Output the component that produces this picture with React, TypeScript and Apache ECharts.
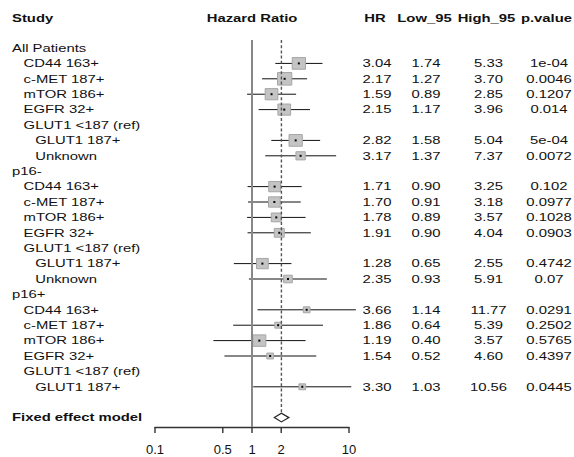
import React, { useEffect, useRef } from "react";
import * as echarts from "echarts";

// ---------- data ----------
const studyLabels = [
  "All Patients", "CD44 163+", "c-MET 187+", "mTOR 186+", "EGFR 32+", "GLUT1 <187 (ref)", "GLUT1 187+", "Unknown",
  "p16-", "CD44 163+", "c-MET 187+", "mTOR 186+", "EGFR 32+", "GLUT1 <187 (ref)", "GLUT1 187+", "Unknown",
  "p16+", "CD44 163+", "c-MET 187+", "mTOR 186+", "EGFR 32+", "GLUT1 <187 (ref)", "GLUT1 187+",
  "", "Fixed effect model",
];
const labelIndent = [0, 1, 1, 1, 1, 1, 2, 2, 0, 1, 1, 1, 1, 1, 2, 2, 0, 1, 1, 1, 1, 1, 2, 0, 0];
const hrValues: (number | null)[] = [
  null, 3.04, 2.17, 1.59, 2.15, null, 2.82, 3.17,
  null, 1.71, 1.70, 1.78, 1.91, null, 1.28, 2.35,
  null, 3.66, 1.86, 1.19, 1.54, null, 3.30, null, null,
];
const low95: (number | null)[] = [
  null, 1.74, 1.27, 0.89, 1.17, null, 1.58, 1.37,
  null, 0.90, 0.91, 0.89, 0.90, null, 0.65, 0.93,
  null, 1.14, 0.64, 0.40, 0.52, null, 1.03, null, null,
];
const high95: (number | null)[] = [
  null, 5.33, 3.70, 2.85, 3.96, null, 5.04, 7.37,
  null, 3.25, 3.18, 3.57, 4.04, null, 2.55, 5.91,
  null, 11.77, 5.39, 3.57, 4.60, null, 10.56, null, null,
];
const pValues = [
  "", "1e-04", "0.0046", "0.1207", "0.014", "", "5e-04", "0.0072",
  "", "0.102", "0.0977", "0.1028", "0.0903", "", "0.4742", "0.07",
  "", "0.0291", "0.2502", "0.5765", "0.4397", "", "0.0445", "", "",
];
const boxWeight: (number | null)[] = [
  null, 13.3, 14.3, 12.7, 12.7, null, 13.3, 9.3,
  null, 11.7, 11.7, 10, 10, null, 11.7, 8.7,
  null, 6.7, 6.7, 13, 6.7, null, 6.7, null, null,
];
const pooledRow = 24;
const pooledHR = 2.01;
const pooledLow = 1.70;
const pooledHigh = 2.40;
const tickValues = [0.1, 0.5, 1, 2, 10];
const tickLabels = ["0.1", "0.5", "1", "2", "10"];
const columnHeaders = ["HR", "Low_95", "High_95", "p.value"];

// ---------- layout ----------
const FONT = "'Liberation Sans', Arial, Helvetica, sans-serif";
const SX = 1.35;
const FS = 11;
const Y_MIN = -0.52;
const Y_MAX = 24.61;
const COL_X = [377, 426, 488.5, 549];
const HEADER_Y = 18;
const TEXT_COLOR = "#111";
const AXIS_COLOR = "#333";
const TICK_LEN = 6;

export default function App() {
  const ref = useRef<HTMLDivElement>(null);
  useEffect(() => {
    if (!ref.current) return;
    const chart = echarts.init(ref.current, undefined, { renderer: "svg" });

    const forestData: number[][] = [];
    hrValues.forEach((h, i) => {
      if (h != null) forestData.push([h, i, low95[i] as number, high95[i] as number, boxWeight[i] as number]);
    });
    const textData = studyLabels.map((_, i) => [1, i]);

    const txt = (x: number, y: number, text: string, align: string, bold = false) => ({
      type: "text",
      x,
      y,
      scaleX: SX,
      silent: true,
      style: {
        text,
        fontSize: FS,
        fontFamily: FONT,
        fontWeight: bold ? "bold" : "normal",
        fill: TEXT_COLOR,
        align,
        verticalAlign: "middle",
      },
    });

    const headerGraphics = [
      txt(12, HEADER_Y, "Study", "left", true),
      txt(252, HEADER_Y, "Hazard Ratio", "center", true),
      ...columnHeaders.map((h, k) => txt([375, 424.5, 486.5, 546.5][k], HEADER_Y, h, "center", true)),
    ];

    const fmt = (v: number | null) => (v == null ? "" : v.toFixed(2));

    chart.setOption({
      animation: false,
      grid: { left: 155, width: 194, top: 40, height: 387 },
      xAxis: {
        type: "log",
        logBase: 10,
        min: 0.1,
        max: 10,
        axisLine: { onZero: false, lineStyle: { color: AXIS_COLOR, width: 1.3 } },
        axisTick: { show: false },
        axisLabel: {
          customValues: tickValues,
          margin: 16,
          fontSize: 13,
          fontFamily: FONT,
          color: TEXT_COLOR,
          formatter: (v: number) => {
            let best = 0;
            let bd = Infinity;
            tickValues.forEach((t, i) => {
              const d = Math.abs(Math.log10(v) - Math.log10(t));
              if (d < bd) { bd = d; best = i; }
            });
            return tickLabels[best];
          },
        },
        splitLine: { show: false },
        minorTick: { show: false },
      },
      yAxis: { type: "value", inverse: true, min: Y_MIN, max: Y_MAX, show: false },
      graphic: headerGraphics,
      series: [
        {
          type: "custom",
          name: "reference",
          clip: false,
          z: 5,
          data: [[1, 0]],
          encode: { x: 0, y: 1 },
          renderItem: (_p: any, api: any) => {
            const top1 = api.coord([1, Y_MIN]);
            const bot1 = api.coord([1, Y_MAX]);
            const topP = api.coord([pooledHR, Y_MIN]);
            const dia = api.coord([pooledHR, pooledRow]);
            const ticks = tickValues.map((t) => {
              const p = api.coord([t, Y_MAX]);
              return {
                type: "line",
                shape: { x1: p[0], y1: p[1], x2: p[0], y2: p[1] + TICK_LEN },
                style: { stroke: AXIS_COLOR, lineWidth: 1.4 },
              };
            });
            return {
              type: "group",
              children: [
                { type: "line", shape: { x1: top1[0], y1: top1[1], x2: bot1[0], y2: bot1[1] }, style: { stroke: "#888", lineWidth: 2 } },
                { type: "line", shape: { x1: topP[0], y1: topP[1], x2: dia[0], y2: dia[1] - 4.5 }, style: { stroke: "#555", lineWidth: 1.4, lineDash: [3, 2.2] } },
                ...ticks,
              ],
            };
          },
        },
        {
          type: "custom",
          name: "forest",
          clip: false,
          data: forestData,
          encode: { x: 0, y: 1 },
          renderItem: (_p: any, api: any) => {
            const est = api.value(0);
            const row = api.value(1);
            const lo = api.value(2);
            const hi = api.value(3);
            const w = api.value(4);
            const a = api.coord([lo, row]);
            const b = api.coord([hi, row]);
            const c = api.coord([est, row]);
            const sw = w;
            const sh = w * 0.88;
            return {
              type: "group",
              children: [
                { type: "line", shape: { x1: a[0], y1: a[1], x2: b[0], y2: b[1] }, style: { stroke: "#111", lineWidth: 1 } },
                { type: "rect", shape: { x: c[0] - sw / 2, y: c[1] - sh / 2, width: sw, height: sh }, style: { fill: "#c4c4c4", stroke: "#a6a6a6", lineWidth: 1 } },
                { type: "rect", shape: { x: c[0] - 1, y: c[1] - 1, width: 2, height: 2 }, style: { fill: "#000" } },
              ],
            };
          },
        },
        {
          type: "custom",
          name: "pooled",
          clip: false,
          data: [[pooledHR, pooledRow, pooledLow, pooledHigh]],
          encode: { x: 0, y: 1 },
          renderItem: (_p: any, api: any) => {
            const row = api.value(1);
            const c = api.coord([api.value(0), row]);
            const l = api.coord([api.value(2), row]);
            const r = api.coord([api.value(3), row]);
            const h = 4.3;
            return {
              type: "polygon",
              shape: { points: [[l[0], l[1]], [c[0], c[1] - h], [r[0], r[1]], [c[0], c[1] + h]] },
              style: { fill: "#fff", stroke: "#222", lineWidth: 1.2 },
            };
          },
        },
        {
          type: "custom",
          name: "table",
          clip: false,
          data: textData,
          encode: { x: 0, y: 1 },
          renderItem: (_p: any, api: any) => {
            const row = api.value(1);
            const y = api.coord([1, row])[1];
            const children: any[] = [];
            const label = studyLabels[row];
            if (label) {
              children.push(txt(12 + labelIndent[row] * 11.6, y, label, "left", row === pooledRow));
            }
            if (hrValues[row] != null) {
              children.push(txt(COL_X[0], y, fmt(hrValues[row]), "center"));
              children.push(txt(COL_X[1], y, fmt(low95[row]), "center"));
              children.push(txt(COL_X[2], y, fmt(high95[row]), "center"));
              children.push(txt(COL_X[3], y, pValues[row], "center"));
            }
            return { type: "group", children };
          },
        },
      ],
    });
    return () => chart.dispose();
  }, []);
  return <div ref={ref} style={{ position: "fixed", left: 0, top: 0, width: 574, height: 457, background: "#fff" }} />;
}
